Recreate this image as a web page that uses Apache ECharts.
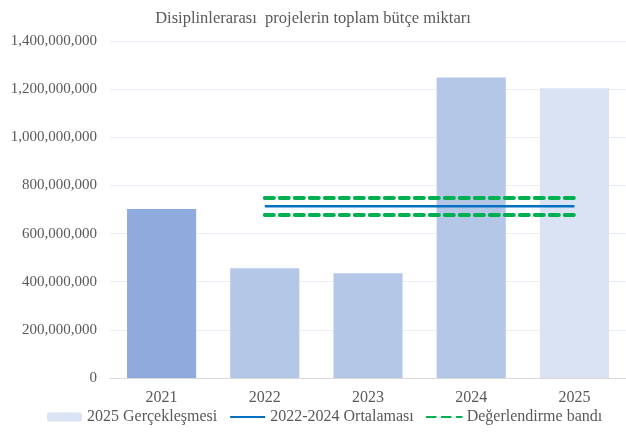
<!DOCTYPE html>
<html>
<head>
<meta charset="utf-8">
<script src="https://cdn.jsdelivr.net/npm/echarts@6/dist/echarts.min.js"></script>
<style>
  html, body { margin: 0; padding: 0; background: #fff; }
  #chart { width: 626px; height: 443px; }
</style>
</head>
<body>
<div id="chart"></div>
<script>
// yillar ve butce degerleri
var years = ['2021', '2022', '2023', '2024', '2025'];
var budget = [702000000, 456000000, 435000000, 1248000000, 1204000000];
var barColors = ['#8faadc', '#b4c7e7', '#b4c7e7', '#b4c7e7', '#dae3f3'];
// 2022-2024 ortalamasi ve degerlendirme bandi (2022..2025 arasi cizilir)
var average = [null, 713000000, 713000000, 713000000, 713000000];
var bandUpper = [null, 748000000, 748000000, 748000000, 748000000];
var bandLower = [null, 677000000, 677000000, 677000000, 677000000];

var serif = '"Liberation Serif", "Times New Roman", serif';
var textColor = '#595959';

var myChart = echarts.init(document.getElementById('chart'));

var option = {
  animation: false,
  title: {
    text: 'Disiplinlerarası  projelerin toplam bütçe miktarı',
    left: 'center',
    top: 5,
    textStyle: { fontFamily: serif, fontSize: 16.5, fontWeight: 'normal', color: textColor }
  },
  legend: {
    bottom: 13,
    left: 42,
    itemWidth: 35,
    itemHeight: 9,
    itemGap: 12,
    textStyle: { fontFamily: serif, fontSize: 16, color: textColor },
    data: [
      { name: '2025 Gerçekleşmesi' },
      // sembol yerine sadece cizgi gorunsun
      { name: '2022-2024 Ortalaması', itemStyle: { opacity: 0 } },
      { name: 'Değerlendirme bandı', itemStyle: { opacity: 0 } }
    ]
  },
  grid: {
    left: 110,
    right: -4,
    top: 41,
    bottom: 65
  },
  xAxis: {
    type: 'category',
    data: years,
    axisTick: { show: false },
    axisLine: { lineStyle: { color: '#d9d9d9', width: 1 } },
    axisLabel: { fontFamily: serif, fontSize: 16, color: textColor, margin: 12 }
  },
  yAxis: {
    type: 'value',
    min: 0,
    max: 1400000000,
    interval: 200000000,
    axisLine: { show: false },
    axisTick: { show: false },
    splitLine: { lineStyle: { color: '#e9eef6', width: 1 } },
    axisLabel: {
      fontFamily: serif,
      fontSize: 15,
      color: textColor,
      margin: 13,
      formatter: function (v) { return v.toLocaleString('en-US'); }
    }
  },
  series: [
    {
      name: '2025 Gerçekleşmesi',
      type: 'bar',
      barWidth: '67%',
      itemStyle: { color: '#dae3f3' },
      data: budget.map(function (v, i) {
        return { value: v, itemStyle: { color: barColors[i] } };
      })
    },
    {
      name: '2022-2024 Ortalaması',
      type: 'line',
      showSymbol: false,
      color: '#0070c0',
      lineStyle: { color: '#0070c0', width: 2.5 },
      data: average
    },
    {
      name: 'Değerlendirme bandı',
      type: 'line',
      showSymbol: false,
      color: '#00b050',
      lineStyle: { color: '#00b050', width: 4, type: [9, 6], cap: 'round' },
      data: bandUpper
    },
    {
      name: 'Değerlendirme bandı',
      type: 'line',
      showSymbol: false,
      color: '#00b050',
      lineStyle: { color: '#00b050', width: 4, type: [9, 6], cap: 'round' },
      data: bandLower
    }
  ]
};

myChart.setOption(option);
</script>
</body>
</html>
